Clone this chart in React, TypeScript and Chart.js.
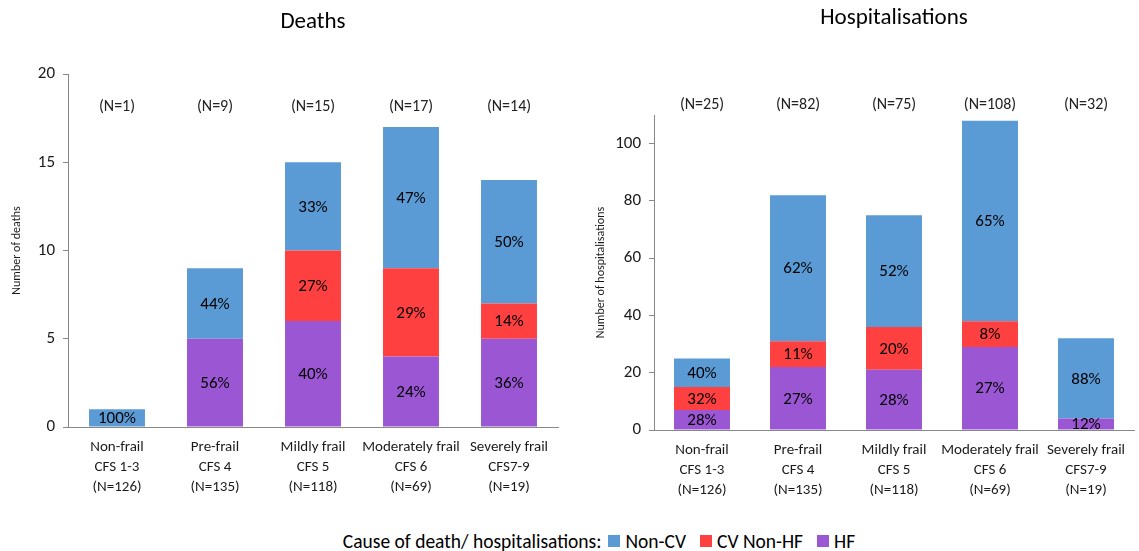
import React, { useEffect, useRef } from "react";
import { Chart, registerables } from "chart.js";

Chart.register(...registerables);

const FONT = "Carlito, Calibri, Lato, 'Open Sans', sans-serif";

const categories = [
  ["Non-frail", "CFS 1-3", "(N=126)"],
  ["Pre-frail", "CFS 4", "(N=135)"],
  ["Mildly frail", "CFS 5", "(N=118)"],
  ["Moderately frail", "CFS 6", "(N=69)"],
  ["Severely frail", "CFS7-9", "(N=19)"],
];

const seriesNames = ["HF", "CV Non-HF", "Non-CV"];
const seriesColors = ["#9B57D3", "#FF4040", "#5B9BD5"];

// Deaths
const deathsHF = [0, 5, 6, 4, 5];
const deathsCV = [0, 0, 4, 5, 2];
const deathsNonCV = [1, 4, 5, 8, 7];
const deathsPctHF = ["", "56%", "40%", "24%", "36%"];
const deathsPctCV = ["", "", "27%", "29%", "14%"];
const deathsPctNonCV = ["100%", "44%", "33%", "47%", "50%"];
const deathsN = ["(N=1)", "(N=9)", "(N=15)", "(N=17)", "(N=14)"];
const deathsTicks = [0, 5, 10, 15, 20];

// Hospitalisations
const hospHF = [7, 22, 21, 29, 4];
const hospCV = [8, 9, 15, 9, 0];
const hospNonCV = [10, 51, 39, 70, 28];
const hospPctHF = ["28%", "27%", "28%", "27%", "12%"];
const hospPctCV = ["32%", "11%", "20%", "8%", ""];
const hospPctNonCV = ["40%", "62%", "52%", "65%", "88%"];
const hospN = ["(N=25)", "(N=82)", "(N=75)", "(N=108)", "(N=32)"];
const hospTicks = [0, 20, 40, 60, 80, 100];

type Cfg = {
  title: string;
  titleY: number;
  yTitle: string;
  yTitlePad: number;
  values: number[][];
  pct: string[][];
  nLabels: string[];
  nOffset: number;
  yMax: number;
  yTicks: number[];
  yWidth: number;
  xHeight: number;
  padTop: number;
  padRight: number;
  catPct: number;
  width: number;
  height: number;
};

function makePlugin(cfg: Cfg) {
  return {
    id: "annot",
    afterDatasetsDraw(chart: any) {
      const ctx = chart.ctx;
      const area = chart.chartArea;
      ctx.save();
      ctx.fillStyle = "#000";
      ctx.textAlign = "center";
      ctx.textBaseline = "middle";
      ctx.font = `17px ${FONT}`;
      chart.data.datasets.forEach((_ds: any, i: number) => {
        const meta = chart.getDatasetMeta(i);
        meta.data.forEach((bar: any, j: number) => {
          const t = cfg.pct[i][j];
          if (!t) return;
          const p = bar.getProps(["x", "y", "base"], true);
          ctx.fillText(t, p.x, (p.y + p.base) / 2 + 1);
        });
      });
      ctx.font = `16px ${FONT}`;
      ctx.fillStyle = "#222";
      cfg.nLabels.forEach((t, j) => {
        const x = chart.scales.x.getPixelForValue(j);
        ctx.fillText(t, x, area.top + cfg.nOffset);
      });
      ctx.font = `23px ${FONT}`;
      ctx.fillStyle = "#000";
      ctx.fillText(cfg.title, (area.left + area.right) / 2, cfg.titleY);
      ctx.restore();
    },
  };
}

function StackChart({ cfg }: { cfg: Cfg }) {
  const ref = useRef<HTMLCanvasElement | null>(null);
  useEffect(() => {
    if (!ref.current) return;
    const chart = new Chart(ref.current, {
      type: "bar",
      data: {
        labels: categories,
        datasets: seriesNames.map((name, i) => ({
          label: name,
          data: cfg.values[i],
          backgroundColor: seriesColors[i],
          borderWidth: 0,
          barPercentage: 1,
          categoryPercentage: cfg.catPct,
        })),
      },
      options: {
        responsive: false,
        animation: false,
        layout: { padding: { top: cfg.padTop, right: cfg.padRight, left: 0, bottom: 0 } },
        plugins: { legend: { display: false }, tooltip: { enabled: false }, title: { display: false } },
        scales: {
          x: {
            stacked: true,
            grid: { display: false, drawTicks: false },
            border: { color: "#888", width: 1 },
            ticks: { color: "#1a1a1a", padding: 10, maxRotation: 0, autoSkip: false, font: { family: FONT, size: 15, lineHeight: 1.33 } },
            afterFit: (s: any) => { s.height = cfg.xHeight; },
          },
          y: {
            stacked: true,
            min: 0,
            max: cfg.yMax,
            afterBuildTicks: (s: any) => { s.ticks = cfg.yTicks.map((v) => ({ value: v })); },
            grid: { drawOnChartArea: false, drawTicks: true, tickLength: 5, color: "#888" },
            border: { color: "#888", width: 1 },
            ticks: { color: "#1a1a1a", padding: 8, font: { family: FONT, size: 17 } },
            title: { display: true, text: cfg.yTitle, color: "#1a1a1a", font: { family: FONT, size: 12 }, padding: { top: cfg.yTitlePad, bottom: 0 } },
            afterFit: (s: any) => { s.width = cfg.yWidth; },
          },
        },
      },
      plugins: [makePlugin(cfg)],
    } as any);
    return () => chart.destroy();
  }, [cfg]);
  return <canvas ref={ref} width={cfg.width} height={cfg.height} style={{ display: "block" }} />;
}

const deathsCfg: Cfg = {
  title: "Deaths",
  titleY: 22,
  yTitle: "Number of deaths",
  yTitlePad: 10,
  values: [deathsHF, deathsCV, deathsNonCV],
  pct: [deathsPctHF, deathsPctCV, deathsPctNonCV],
  nLabels: deathsN,
  nOffset: 33,
  yMax: 20,
  yTicks: deathsTicks,
  yWidth: 68,
  xHeight: 83,
  padTop: 74,
  padRight: 12,
  catPct: 0.571,
  width: 570,
  height: 510,
};

const hospCfg: Cfg = {
  title: "Hospitalisations",
  titleY: 18,
  yTitle: "Number of hospitalisations",
  yTitlePad: 24,
  values: [hospHF, hospCV, hospNonCV],
  pct: [hospPctHF, hospPctCV, hospPctNonCV],
  nLabels: hospN,
  nOffset: -10,
  yMax: 110,
  yTicks: hospTicks,
  yWidth: 84,
  xHeight: 80,
  padTop: 115,
  padRight: 5,
  catPct: 0.583,
  width: 569,
  height: 510,
};

const legendItems = [
  { name: "Non-CV", color: "#5B9BD5" },
  { name: "CV Non-HF", color: "#FF4040" },
  { name: "HF", color: "#9B57D3" },
];

export default function App() {
  return (
    <div style={{ position: "fixed", left: 0, top: 0, width: 1139, height: 551, background: "#fff", overflow: "hidden" }}>
      <div style={{ position: "absolute", left: 0, top: 0 }}>
        <StackChart cfg={deathsCfg} />
      </div>
      <div style={{ position: "absolute", left: 570, top: 0 }}>
        <StackChart cfg={hospCfg} />
      </div>
      <div
        style={{
          position: "absolute",
          left: 0,
          top: 530,
          width: 1212,
          display: "flex",
          justifyContent: "center",
          alignItems: "center",
          fontFamily: FONT,
          fontSize: 19.5,
          color: "#000",
          lineHeight: "22px",
          whiteSpace: "nowrap",
        }}
      >
        <span style={{ marginRight: 7 }}>Cause of death/ hospitalisations:</span>
        {legendItems.map((it) => (
          <span key={it.name} style={{ display: "inline-flex", alignItems: "center", marginRight: 14 }}>
            <span style={{ display: "inline-block", width: 12, height: 12, background: it.color, marginRight: 5 }} />
            <span>{it.name}</span>
          </span>
        ))}
      </div>
    </div>
  );
}
